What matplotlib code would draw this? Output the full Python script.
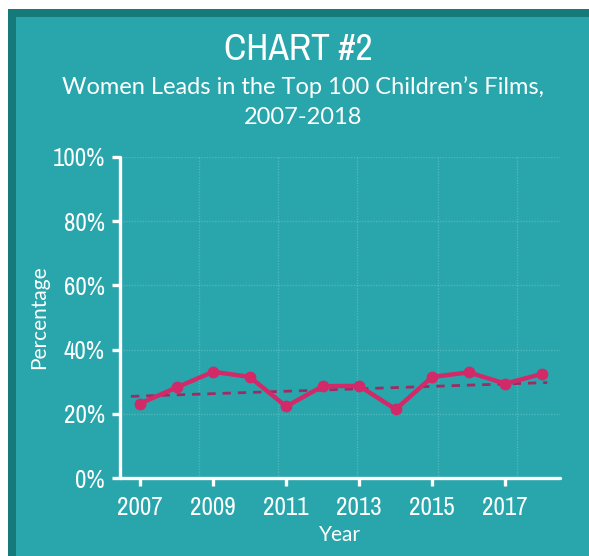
import matplotlib
matplotlib.use("Agg")
import matplotlib.pyplot as plt
from matplotlib.patches import Rectangle
from matplotlib.ticker import FixedLocator
from matplotlib import font_manager
import numpy as np

years = [2007, 2008, 2009, 2010, 2011, 2012, 2013, 2014, 2015, 2016, 2017, 2018]
women_leads = [23.2, 28.2, 33.1, 31.5, 22.3, 28.6, 28.7, 21.4, 31.5, 32.9, 29.4, 32.4]
xtick_years = [2007, 2009, 2011, 2013, 2015, 2017]
ytick_vals = [0, 20, 40, 60, 80, 100]
ytick_labels = ["0%", "20%", "40%", "60%", "80%", "100%"]

teal = "#28a6ac"
teal_dark = "#167a7a"
pink = "#d22a68"
pink_dark = "#a12a63"
sans = ["Lato", "DejaVu Sans"]

# pick a narrow face if one is installed
names = sorted({f.name for f in font_manager.fontManager.ttflist})
narrow_names = [n for n in names if "Narrow" in n or "Condensed" in n]
narrow = narrow_names[:1] + ["DejaVu Sans"]
stretch = "normal" if narrow_names else "condensed"

W, H = 589, 556
fig = plt.figure(figsize=(W / 100, H / 100), dpi=100, facecolor="white")

# panel background with darker border on top/left
fig.add_artist(Rectangle((8 / W, -0.1), 2, 1.1 - 9 / H, transform=fig.transFigure,
                         facecolor=teal_dark, edgecolor="none", zorder=-10))
fig.add_artist(Rectangle((16 / W, -0.1), 2, 1.1 - 17 / H, transform=fig.transFigure,
                         facecolor=teal, edgecolor="none", zorder=-9))

fig.text(298 / W, 1 - 50 / H, "CHART #2", ha="center", va="center",
         color="white", fontsize=27, family=narrow, fontstretch=stretch)
fig.text(303 / W, 1 - 87 / H, "Women Leads in the Top 100 Children\u2019s Films,",
         ha="center", va="center", color="white", fontsize=17, family=sans)
fig.text(303 / W, 1 - 118 / H, "2007-2018", ha="center", va="center",
         color="white", fontsize=17, family=sans)

ax = fig.add_axes([120 / W, 1 - 478 / H, 440 / W, 321 / H])
ax.set_facecolor("none")
ax.set_zorder(2)

x = np.array(years)
y = np.array(women_leads)
ax.plot(x, y, color=pink, lw=3.2, marker="o", ms=7.5, zorder=4,
        solid_joinstyle="round")

# linear trend line
slope, icpt = np.polyfit(x, y, 1)
tx = np.array([2006.75, 2018.15])
ax.plot(tx, slope * tx + icpt - 1.0, color=pink_dark, lw=2, ls=(0, (3, 2.5)), zorder=3)

ax.set_xlim(2006.45, 2018.5)
ax.set_ylim(0, 100)
ax.set_xticks(xtick_years)
ax.set_xticklabels([str(v) for v in xtick_years], family=narrow, fontsize=18,
                   fontstretch=stretch)
ax.set_yticks(ytick_vals)
ax.set_yticklabels(ytick_labels, family=narrow, fontsize=18, fontstretch=stretch)

# faint background grid
ax.xaxis.set_minor_locator(FixedLocator([2008.6, 2010.78, 2012.95, 2015.15, 2017.33]))
ax.grid(True, which="minor", axis="x", color="white", alpha=0.18, lw=1, ls=(0, (1, 1)))
ax.grid(True, which="major", axis="y", color="white", alpha=0.18, lw=1, ls=(0, (1, 1)))
ax.tick_params(axis="x", which="minor", length=0)

for side in ["top", "right"]:
    ax.spines[side].set_visible(False)
for side in ["left", "bottom"]:
    ax.spines[side].set_color("white")
    ax.spines[side].set_linewidth(2.4)
    ax.spines[side].set_capstyle("round")
ax.tick_params(axis="both", which="major", colors="white", width=2.4, length=6)
ax.tick_params(axis="y", pad=5)
ax.tick_params(axis="x", pad=7)

ax.set_xlabel("Year", color="white", fontsize=15, family=sans, labelpad=4)
ax.set_ylabel("Percentage", color="white", fontsize=15, family=sans, labelpad=2)

fig.savefig("out.png", dpi=100, facecolor="white")
